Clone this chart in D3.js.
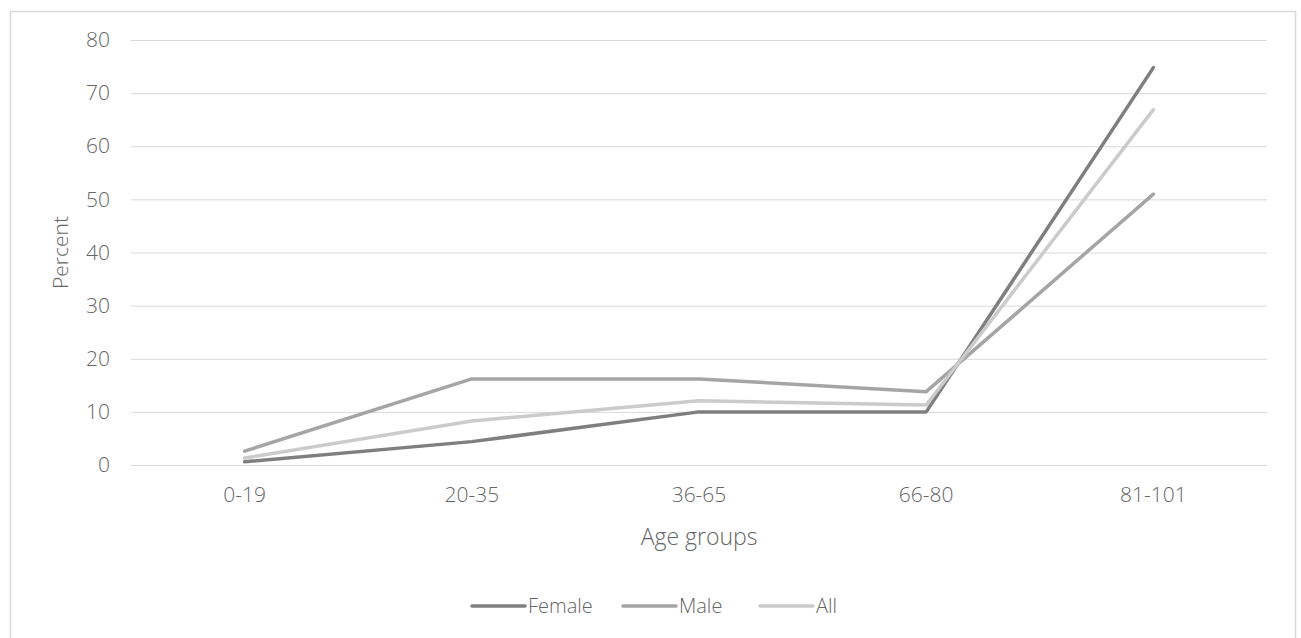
<!DOCTYPE html>
<html>
<head>
<meta charset="utf-8">
<script src="https://cdn.jsdelivr.net/npm/d3@7"></script>
<style>
  body { margin: 0; background: #fff; }
  text { font-family: "Open Sans", "Segoe UI", sans-serif; font-weight: 300; fill: #666666; }
</style>
</head>
<body>
<div id="js_chart"></div>
<script>
// chart data
var categories = ["0-19", "20-35", "36-65", "66-80", "81-101"];
var female = [0.6, 4.4, 10.0, 10.0, 74.8];
var male = [2.6, 16.2, 16.2, 13.8, 51.0];
var all = [1.3, 8.3, 12.1, 11.3, 66.9];
var yTicks = [0, 10, 20, 30, 40, 50, 60, 70, 80];
var seriesNames = ["Female", "Male", "All"];

var seriesColors = ["#7f7f7f", "#a5a5a5", "#cbcbcb"];
var seriesData = [female, male, all];

var W = 1301, H = 638;
var plot = { left: 131, right: 1267, top: 40, bottom: 465 };

var svg = d3.select("#js_chart").append("svg")
  .attr("width", W)
  .attr("height", H);

// outer frame
svg.append("rect")
  .attr("x", 10.5).attr("y", 11.5)
  .attr("width", 1285).attr("height", 640)
  .attr("fill", "none")
  .attr("stroke", "#d9d9d9")
  .attr("stroke-width", 1.5);

var x = d3.scaleBand()
  .domain(categories)
  .range([plot.left, plot.right]);

var y = d3.scaleLinear()
  .domain([0, 80])
  .range([plot.bottom, plot.top]);

// gridlines + y labels
var yAxis = d3.axisLeft(y)
  .tickValues(yTicks)
  .tickSize(-(plot.right - plot.left))
  .tickPadding(21);

var gy = svg.append("g")
  .attr("transform", "translate(" + plot.left + ",0)")
  .call(yAxis);
gy.select(".domain").remove();
gy.selectAll(".tick line").attr("stroke", "#d9d9d9").attr("stroke-width", 1);
gy.selectAll(".tick text")
  .style("font-size", "21px")
  .attr("fill", "#666666");

// x labels
var xAxis = d3.axisBottom(x).tickSize(0).tickPadding(22);
var gx = svg.append("g")
  .attr("transform", "translate(0," + plot.bottom + ")")
  .call(xAxis);
gx.select(".domain").attr("stroke", "#d9d9d9");
gx.selectAll(".tick text")
  .style("font-size", "21px")
  .attr("fill", "#666666");

// axis titles
svg.append("text")
  .attr("x", (plot.left + plot.right) / 2)
  .attr("y", 545)
  .attr("text-anchor", "middle")
  .style("font-size", "23px")
  .text("Age groups");

svg.append("text")
  .attr("transform", "translate(68," + ((plot.top + plot.bottom) / 2) + ") rotate(-90)")
  .attr("text-anchor", "middle")
  .style("font-size", "21px")
  .text("Percent");

// lines
var line = d3.line()
  .x(function (d, i) { return x(categories[i]) + x.bandwidth() / 2; })
  .y(function (d) { return y(d); });

seriesData.forEach(function (vals, idx) {
  svg.append("path")
    .datum(vals)
    .attr("d", line)
    .attr("fill", "none")
    .attr("stroke", seriesColors[idx])
    .attr("stroke-width", 3.5)
    .attr("stroke-linecap", "round")
    .attr("stroke-linejoin", "round");
});

// legend
var legendX = [472, 623, 760];
seriesNames.forEach(function (name, idx) {
  var g = svg.append("g").attr("transform", "translate(" + legendX[idx] + ",606)");
  g.append("line")
    .attr("x1", 0).attr("x2", 53)
    .attr("y1", 0).attr("y2", 0)
    .attr("stroke", seriesColors[idx])
    .attr("stroke-width", 3.5)
    .attr("stroke-linecap", "round");
  g.append("text")
    .attr("x", 56)
    .attr("y", 7)
    .style("font-size", "20px")
    .text(name);
});
</script>
</body>
</html>
